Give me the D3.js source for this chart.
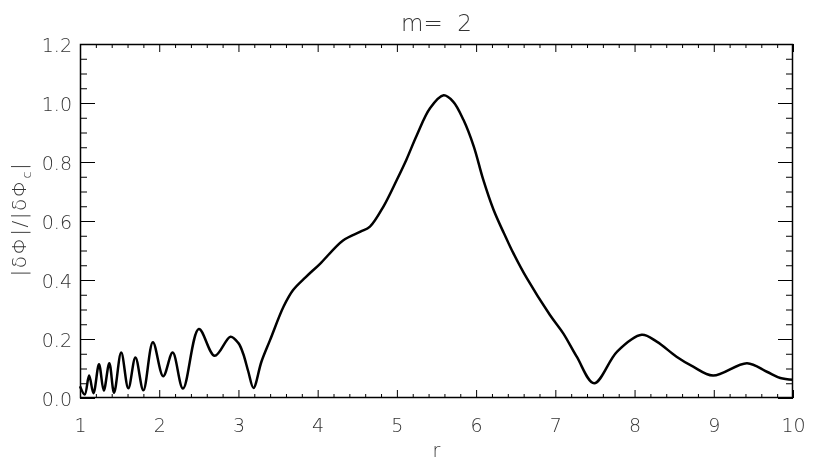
<!DOCTYPE html>
<html><head><meta charset="utf-8">
<script src="https://cdn.jsdelivr.net/npm/d3@7"></script>
<style>
body{margin:0;background:#fff;}
svg{filter:grayscale(1);will-change:transform;}
text{font-family:"DejaVu Sans",sans-serif;font-weight:200;fill:#333;white-space:pre;}
</style></head>
<body>
<svg id="chart" width="822" height="463"></svg>
<script>
const rValues = [1.00,1.06,1.115,1.17,1.24,1.30,1.37,1.43,1.52,1.61,1.70,1.80,1.92,2.05,2.17,2.30,2.50,2.70,2.90,3.00,3.06,3.125,3.19,3.29,3.40,3.57,3.69,3.85,4.03,4.32,4.54,4.66,4.83,5.00,5.12,5.25,5.42,5.59,5.71,5.84,5.97,6.09,6.22,6.35,6.47,6.64,6.93,7.10,7.27,7.49,7.78,8.09,8.28,8.53,8.74,8.99,9.42,9.67,9.84,10.0];
const ampValues = [0.040,0.012,0.076,0.016,0.114,0.025,0.118,0.018,0.154,0.033,0.137,0.026,0.189,0.074,0.154,0.032,0.234,0.143,0.208,0.186,0.150,0.089,0.034,0.123,0.197,0.31,0.366,0.41,0.455,0.534,0.564,0.581,0.649,0.74,0.808,0.89,0.983,1.026,1.005,0.943,0.853,0.74,0.638,0.559,0.491,0.406,0.282,0.219,0.14,0.05,0.157,0.214,0.191,0.14,0.106,0.076,0.118,0.089,0.068,0.062];
const xMajorTicks = [1,2,3,4,5,6,7,8,9,10];
const yMajorTicks = [0.0,0.2,0.4,0.6,0.8,1.0,1.2];
const titleText = "m=  2";
const xLabel = "r";

const svg = d3.select("#chart");
const L = 80, R = 793, T = 44, B = 398;
const x = d3.scaleLinear().domain([1,10]).range([L,R]);
const y = d3.scaleLinear().domain([0,1.2]).range([B,T]);

const xMinor = d3.range(1,10.0001,0.2).map(v=>+v.toFixed(2)).filter(v=>Math.abs(v-Math.round(v))>1e-6);
const yMinor = d3.range(0,1.2001,0.05).map(v=>+v.toFixed(2)).filter(v=>Math.abs(v*5-Math.round(v*5))>1e-6);

function drawAxis(axis, transform){
  const g = svg.append("g").attr("transform",transform).call(axis);
  g.select(".domain").remove();
  g.selectAll(".tick line").attr("stroke","#000").attr("stroke-width",1);
  return g;
}
const gb = drawAxis(d3.axisTop(x).tickValues(xMajorTicks).tickSize(8).tickFormat(d3.format("d")), `translate(0,${B})`);
gb.selectAll("text").attr("y",34).attr("font-size",19).attr("fill","#333").attr("font-family","DejaVu Sans").attr("font-weight",200);
drawAxis(d3.axisTop(x).tickValues(xMinor).tickSize(4).tickFormat(""), `translate(0,${B})`);
drawAxis(d3.axisBottom(x).tickValues(xMajorTicks).tickSize(8).tickFormat(""), `translate(0,${T})`);
drawAxis(d3.axisBottom(x).tickValues(xMinor).tickSize(4).tickFormat(""), `translate(0,${T})`);
const gl = drawAxis(d3.axisRight(y).tickValues(yMajorTicks).tickSize(15).tickFormat(d3.format(".1f")), `translate(${L},0)`);
gl.selectAll("text").attr("x",-8).attr("text-anchor","end").attr("font-size",19).attr("dy","0.4em").attr("fill","#333").attr("font-family","DejaVu Sans").attr("font-weight",200);
drawAxis(d3.axisRight(y).tickValues(yMinor).tickSize(7).tickFormat(""), `translate(${L},0)`);
drawAxis(d3.axisLeft(y).tickValues(yMajorTicks).tickSize(15).tickFormat(""), `translate(${R},0)`);
drawAxis(d3.axisLeft(y).tickValues(yMinor).tickSize(7).tickFormat(""), `translate(${R},0)`);

svg.append("rect").attr("x",L+0.5).attr("y",T+0.5).attr("width",R-L-1).attr("height",B-T-1)
  .attr("fill","none").attr("stroke","#000").attr("stroke-width",1.5);

const data = rValues.map((r,i)=>({r, v: ampValues[i]}));
const line = d3.line().x(d=>x(d.r)).y(d=>y(d.v)).curve(d3.curveCatmullRom.alpha(0.5));
svg.append("path").datum(data).attr("d",line).attr("fill","none").attr("stroke","#000").attr("stroke-width",2.5).attr("stroke-linejoin","round");

svg.append("text").attr("x",(L+R)/2).attr("y",31).attr("text-anchor","middle").attr("font-size",23).text(titleText);
svg.append("text").attr("x",(L+R)/2).attr("y",457).attr("text-anchor","middle").attr("font-size",19).text(xLabel);

const yl = svg.append("text").attr("transform","translate(26,219) rotate(-90)").attr("text-anchor","middle").attr("font-size",20).attr("letter-spacing",1.5);
yl.append("tspan").text("|δΦ|/|δΦ");
yl.append("tspan").attr("font-size",13).attr("dy",5).text("c");
yl.append("tspan").attr("dy",-5).text("|");
</script>
</body></html>
